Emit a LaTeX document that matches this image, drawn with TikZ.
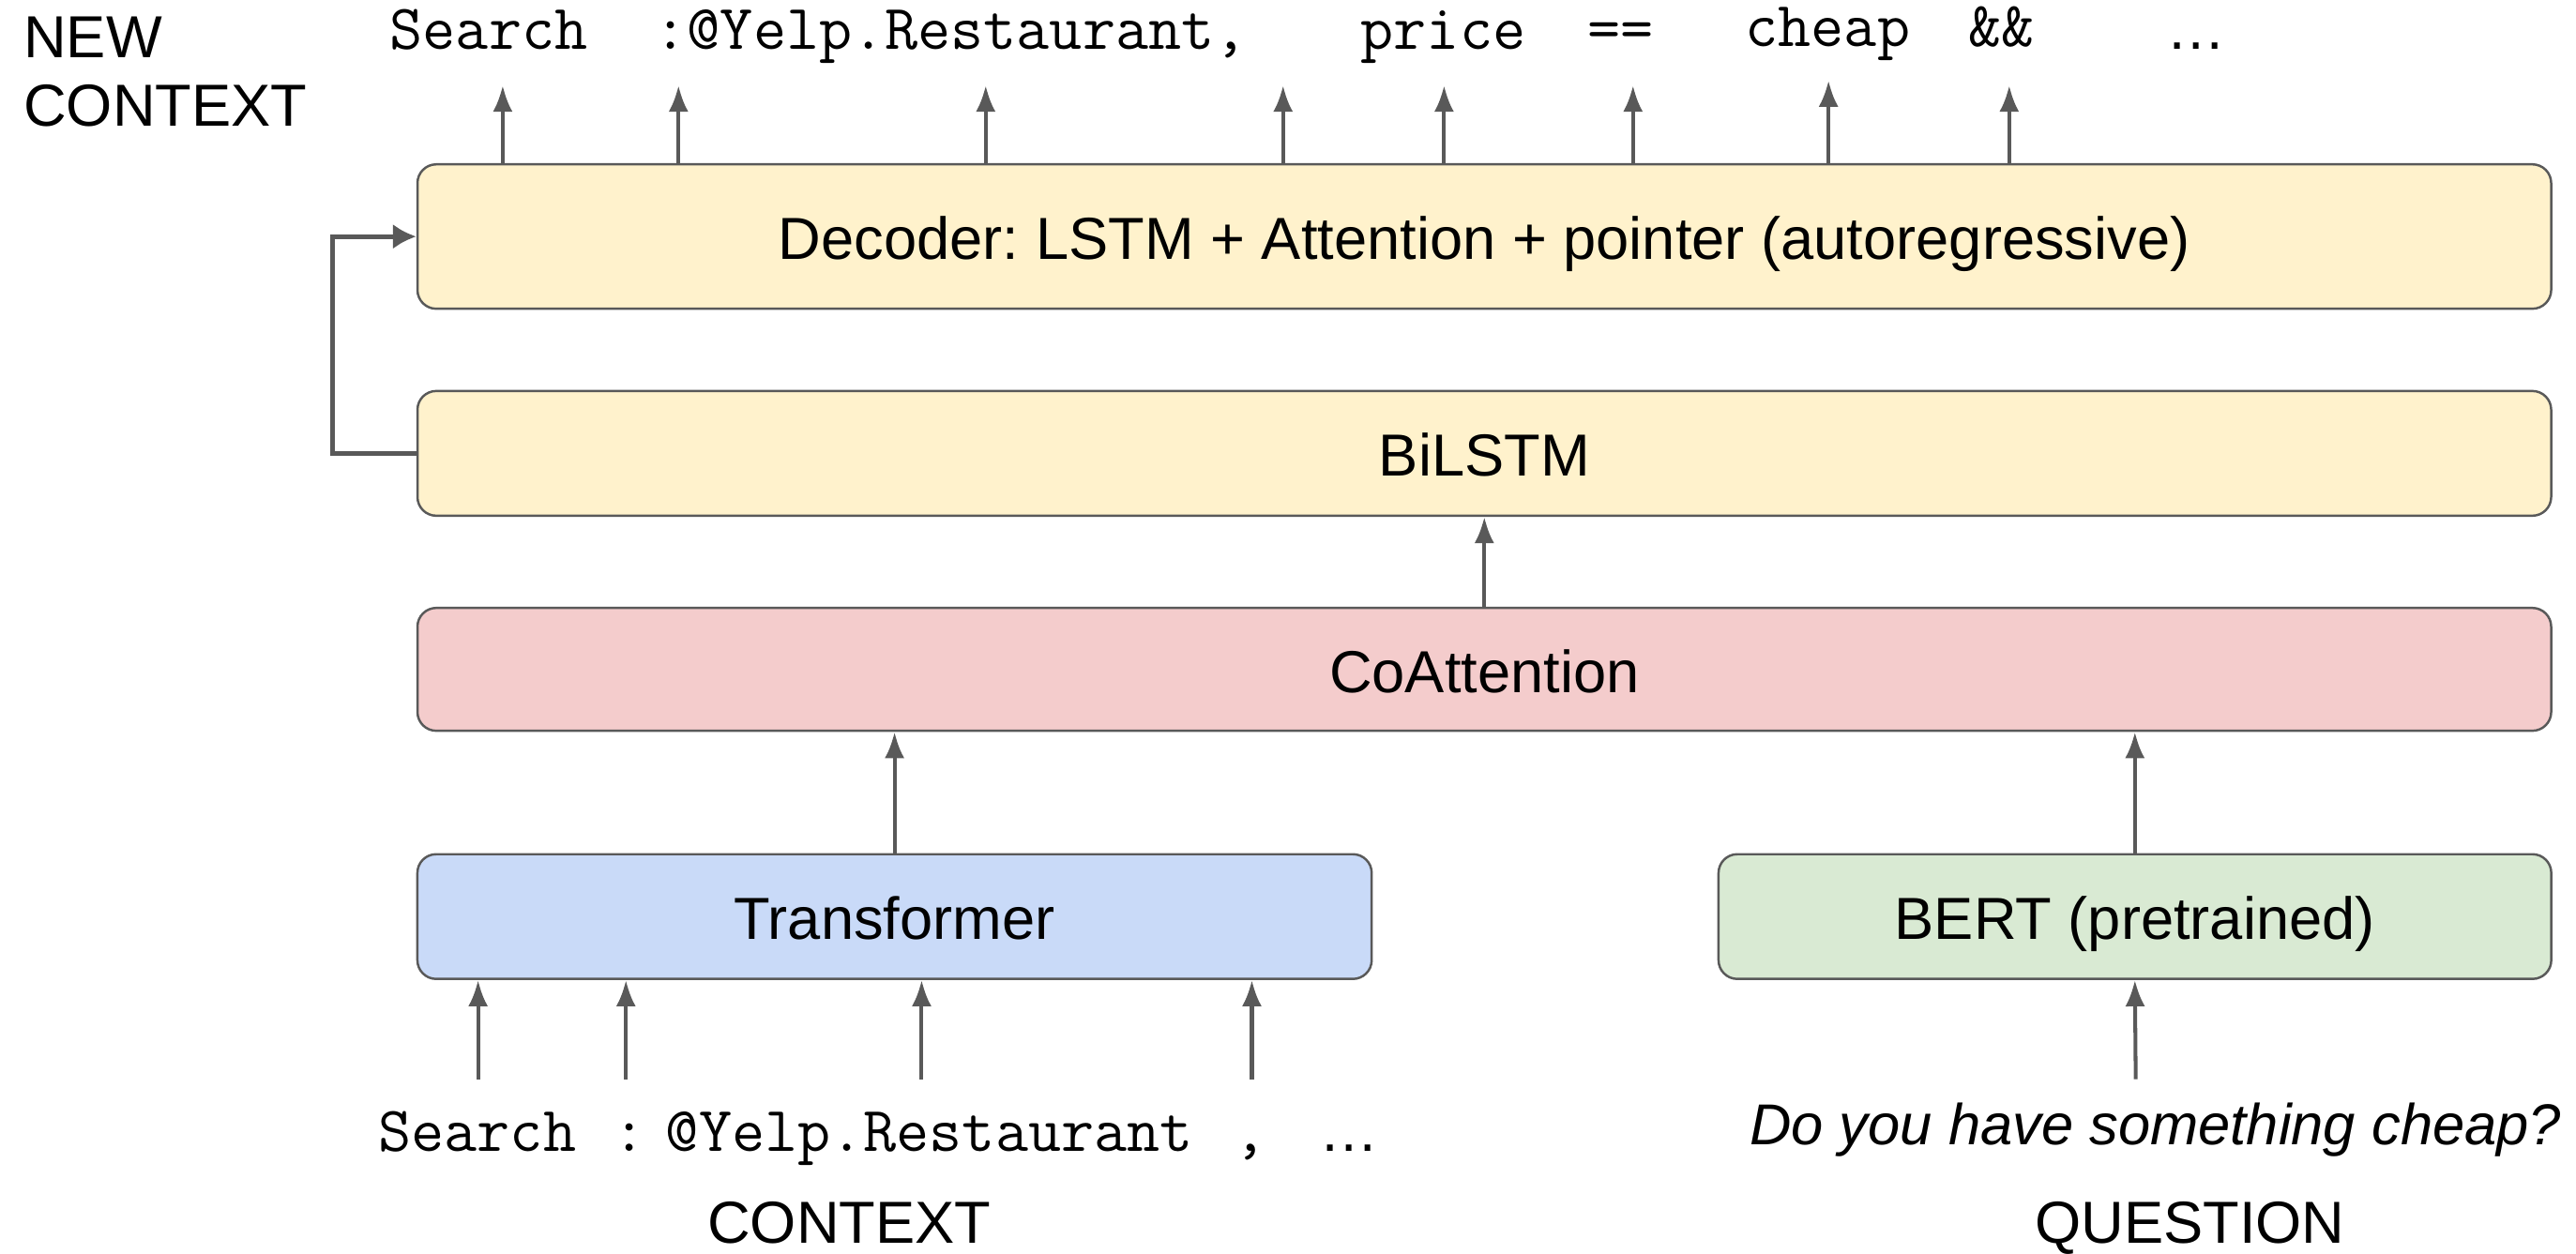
\documentclass[tikz,border=0pt]{standalone}
\usepackage{fontspec}
\setmainfont{Liberation Sans}
\usetikzlibrary{arrows.meta}
\frenchspacing
\definecolor{edge}{HTML}{595959}
\definecolor{decfill}{HTML}{FFF2CC}
\definecolor{coattfill}{HTML}{F4CCCC}
\definecolor{trfill}{HTML}{C9DAF8}
\definecolor{bertfill}{HTML}{D9EAD3}
\tikzset{
  layer/.style={draw=edge, line width=0.7pt, rounded corners=0.2cm, inner sep=0pt,
    text height=14pt, text depth=0pt, font=\fontsize{18}{21}\selectfont},
  tok/.style={font=\fontsize{19.4}{22}\ttfamily, anchor=base west, inner sep=0pt},
  tokc/.style={font=\fontsize{19.4}{22}\ttfamily, anchor=base, inner sep=0pt},
  lbl/.style={font=\fontsize{18}{21}\selectfont, inner sep=0pt},
  arr/.style={draw=edge, line width=1.15pt, -{Latex[length=0.28cm,width=0.21cm]}},
  fbarr/.style={draw=edge, line width=1.5pt, -{Latex[length=0.25cm,width=0.27cm]}}
}
\begin{document}
\begin{tikzpicture}[x=0.017513cm, y=-0.017513cm]
\useasboundingbox (0,0) rectangle (1568,763);

% layers of the model
\node[layer, fill=decfill, minimum width=22.75cm, minimum height=1.54cm] (dec) at (903.5,144)
  {Decoder: LSTM + Attention + pointer (autoregressive)};
\node[layer, fill=decfill, minimum width=22.75cm, minimum height=1.33cm] (bilstm) at (903.5,276) {BiLSTM};
\node[layer, fill=coattfill, minimum width=22.75cm, minimum height=1.31cm] (coatt) at (903.5,407.5) {CoAttention};
\node[layer, fill=trfill, minimum width=10.175cm, minimum height=1.33cm] (tr) at (544.5,558) {Transformer};
\node[layer, fill=bertfill, minimum width=8.879cm, minimum height=1.33cm] (bert) at (1299.5,558) {BERT (pretrained)};

% output tokens
\node[lbl, anchor=base west] (newlbl) at (14,35) {NEW};
\node[lbl, anchor=base west] (ctxlbl) at (14,77) {CONTEXT};
\node[tok] (o1) at (237,30) {Search};
\node[tok] (o2) at (398,30) {:@Yelp.Restaurant,};
\node[tok] (o3) at (828,30) {price};
\node[tok] (o4) at (966,30) {==};
\node[tok] (o5) at (1062,28) {cheap};
\node[tok] (o6) at (1198,28) {\&\&};
\node[lbl, anchor=base] (o7) at (1337,30) {…};

% input tokens
\node[tok] (i1) at (230,701) {Search};
\node[tokc] (i2) at (383,701) {:};
\node[tok] (i3) at (405,701) {@Yelp.Restaurant};
\node[tokc] (i4) at (761,701) {,};
\node[lbl, anchor=base] (i5) at (821,701) {…};
\node[lbl, anchor=base, font=\fontsize{17.5}{21}\itshape] (q) at (1312,697) {Do you have something cheap?};
\node[lbl, anchor=base] (ctx) at (517,757) {CONTEXT};
\node[lbl, anchor=base] (ques) at (1333,757) {QUESTION};

% decoder outputs
\foreach \n/\x/\y in {1/306/52, 2/413/52, 3/600/52, 4/781/52, 5/879/52, 6/994/52, 7/1113/49, 8/1223/52} {
  \coordinate (t\n) at (\x,\y);
  \draw[arr] (t\n |- dec.north) -- (t\n);
}

% context inputs
\foreach \n/\x in {1/291, 2/381, 3/561, 4/762} {
  \coordinate (b\n) at (\x,657);
  \draw[arr] (b\n) -- (b\n |- tr.south);
}
\coordinate (qin) at (1300,657);
\draw[arr] (qin) -- (bert.south);

% flow between layers
\draw[arr] (tr.north) -- (tr.north |- coatt.south);
\draw[arr] (bert.north) -- (bert.north |- coatt.south);
\draw[arr] (coatt.north) -- (bilstm.south);
\draw[fbarr] (bilstm.west) -- ++(-51,0) |- (dec.west);
\end{tikzpicture}
\end{document}
